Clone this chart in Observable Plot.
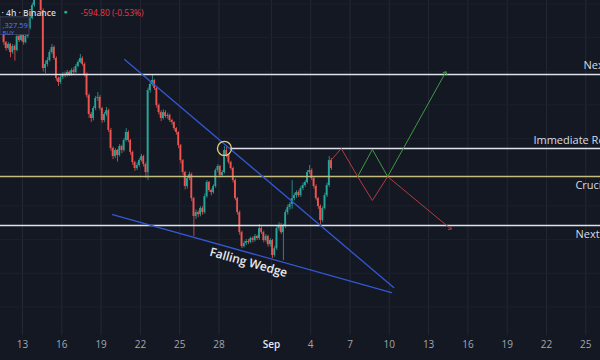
<!DOCTYPE html>
<html><head><meta charset="utf-8">
<script src="https://cdn.jsdelivr.net/npm/d3@7"></script>
<script src="https://cdn.jsdelivr.net/npm/@observablehq/plot@0.6"></script>
<style>
html,body{margin:0;padding:0;background:#141823;}
#chart{width:600px;height:360px;overflow:hidden;}
</style></head><body><div id="chart"></div>
<script>
// ---- data (prices in thousand USDT, BTC/USDT 4h) ----
const firstCandle = "2025-08-11T12:00Z";
const firstOpen = 120.12;
const close = [
119.70,119.35,119.59,119.11,119.47,119.23,120.06,119.82,120.12,119.70,
120.06,120.54,121.13,121.90,122.50,123.09,123.86,121.61,118.16,118.40,
118.63,119.11,119.41,118.75,117.57,117.33,117.62,117.80,117.74,117.92,
117.80,118.04,117.92,118.28,118.52,118.75,118.40,117.80,116.55,115.43,
115.19,115.78,116.38,116.44,115.78,115.07,115.43,115.66,114.48,113.41,
112.93,113.29,112.99,113.52,113.29,113.88,114.36,113.88,113.17,112.57,
112.22,112.40,112.69,112.93,112.45,111.98,116.85,117.21,117.45,116.97,
115.96,115.54,115.19,115.54,115.31,115.37,115.07,114.95,114.59,114.36,
113.58,112.69,111.98,111.15,111.62,111.86,110.43,109.37,109.60,109.48,
109.84,109.60,110.55,111.39,110.91,110.79,111.15,112.10,112.34,111.80,
111.98,113.29,112.99,112.57,112.22,111.50,110.43,109.60,108.41,107.58,
107.76,107.88,107.82,108.06,107.94,108.18,108.06,108.65,108.41,107.94,
108.18,107.70,107.94,107.05,107.46,108.65,108.83,108.41,108.77,109.60,
109.90,110.08,110.43,110.61,110.79,110.61,111.03,111.21,111.39,111.98,
112.10,111.62,111.15,110.43,109.96,109.13,109.84,110.61,111.21,112.69,
112.22];
const high = [
120.24,119.76,119.70,119.65,119.58,119.55,120.18,120.15,120.25,120.20,
120.15,120.65,121.30,122.05,122.70,123.30,124.46,124.00,121.70,118.60,
118.80,119.25,119.58,119.50,118.85,117.65,117.75,117.92,117.95,118.05,
118.00,118.15,118.20,118.40,118.65,118.99,118.85,118.50,117.90,116.65,
115.55,115.90,116.50,116.73,116.55,115.85,115.55,115.85,115.75,114.60,
113.50,113.40,113.35,113.65,113.60,114.00,114.59,114.45,113.95,113.25,
112.65,112.55,112.80,113.05,113.00,112.55,117.00,117.35,117.80,117.50,
117.05,116.05,115.65,115.70,115.65,115.50,115.45,115.15,115.00,114.65,
114.40,113.65,112.75,112.05,111.75,112.00,111.95,110.50,109.75,109.70,
109.95,109.95,110.70,111.50,111.45,111.00,111.25,112.20,112.45,112.40,
112.10,113.52,113.47,113.05,112.65,112.30,111.60,110.50,109.70,108.50,
107.90,108.00,108.00,108.15,108.15,108.30,108.25,108.89,108.75,108.50,
108.30,108.25,108.05,108.00,107.60,108.80,109.00,108.95,108.90,109.75,
110.05,110.20,111.50,110.75,110.90,110.90,111.15,111.35,111.50,112.10,
112.40,112.20,111.70,111.25,110.50,110.05,109.95,110.75,111.35,112.93,
112.81];
const low = [
119.53,119.20,119.25,118.80,119.00,118.60,119.15,119.70,119.75,119.55,
119.62,119.95,120.45,121.05,121.80,122.40,122.95,121.40,117.95,117.85,
118.25,118.55,119.00,118.65,117.40,117.09,117.20,117.50,117.60,117.65,
117.68,117.70,117.80,117.85,118.20,118.45,118.30,117.65,116.40,115.20,
114.95,115.05,115.65,116.20,115.65,114.90,114.95,115.30,114.35,113.25,
112.75,112.80,112.60,112.90,113.10,113.20,113.80,113.75,113.00,112.40,
112.05,112.10,112.30,112.60,112.30,111.62,111.50,116.70,117.10,116.85,
115.80,115.40,115.00,115.10,115.20,115.15,114.95,114.80,114.45,114.20,
113.40,112.50,111.80,110.95,111.00,111.50,110.25,108.18,109.20,109.30,
109.35,109.45,109.50,110.45,110.80,110.60,110.70,111.05,111.95,111.65,
111.70,111.90,112.85,112.45,112.10,111.35,110.30,109.45,108.25,107.46,
107.50,107.65,107.70,107.75,107.80,107.85,107.95,107.95,108.30,107.80,
107.85,107.55,107.55,106.87,106.95,107.35,108.50,108.30,106.75,108.65,
109.45,109.75,109.80,110.30,110.45,110.50,110.50,110.90,111.10,111.30,
111.85,111.50,111.00,110.30,109.80,108.89,109.00,109.75,110.50,111.10,
112.10];

const levelNames  = ["Next Resistance","Immediate Resistance","Crucial Support","Next Support"];
const levelPrices = [117.80, 113.41, 111.74, 108.83];

const wedgeUpperDates  = ["2025-08-20T19:00Z","2025-09-10T08:00Z"];
const wedgeUpperPrices = [118.69, 105.15];
const wedgeLowerDates  = ["2025-08-19T21:00Z","2025-09-10T04:00Z"];
const wedgeLowerPrices = [109.48, 104.85];

const bearDates  = ["2025-09-05T16:00Z","2025-09-06T08:00Z","2025-09-07T14:00Z","2025-09-08T17:00Z","2025-09-09T21:00Z","2025-09-14T16:00Z"];
const bearPrices = [112.81, 113.41, 111.74, 110.32, 111.74, 108.65];
const bullDates  = ["2025-09-07T14:00Z","2025-09-08T17:00Z","2025-09-09T21:00Z","2025-09-14T07:00Z"];
const bullPrices = [111.74, 113.35, 111.74, 117.92];

const retestDate = "2025-08-28T10:00Z";
const retestPrice = 113.41;

const tickDates  = ["2025-08-13","2025-08-16","2025-08-19","2025-08-22","2025-08-25","2025-08-28","2025-09-01","2025-09-04","2025-09-07","2025-09-10","2025-09-13","2025-09-16","2025-09-19","2025-09-22","2025-09-25"];
const tickLabels = ["13","16","19","22","25","28","Sep","4","7","10","13","16","19","22","25"];
const gridPrices = [104,106,108,110,112,114,116,118,120,122];

const headerText = "· 4h · Binance";
const changeText = "-594.80 (-0.53%)";
const buyPrice = ",327.59";
const buyText = "BUY";
const wedgeLabel = "Falling Wedge";

// ---- build tables ----
const H = 3600e3;
const t0 = new Date(firstCandle).getTime();
const candles = close.map((c, i) => ({
  t: t0 + i * 4 * H,
  open: i ? close[i - 1] : firstOpen,
  close: c, high: high[i], low: low[i]
}));
const up = candles.filter(d => d.close >= d.open);
const down = candles.filter(d => d.close < d.open);
const ticks = tickDates.map((s, i) => ({date: new Date(s + "T00:00Z"), label: tickLabels[i]}));
const levels = levelNames.map((n, i) => ({name: n, price: levelPrices[i]}));
const pts = (ds, ps) => ds.map((d, i) => ({date: new Date(d), price: ps[i]}));
const wedge = [...pts(wedgeUpperDates, wedgeUpperPrices).map(d => ({...d, z: "u"})),
               ...pts(wedgeLowerDates, wedgeLowerPrices).map(d => ({...d, z: "l"}))];
const bear = pts(bearDates, bearPrices);
const bull = pts(bullDates, bullPrices);

const xStart = new Date(Date.UTC(2025, 7, 11, 7, 41));
const xEnd = new Date(Date.UTC(2025, 8, 26, 2, 56));
const GREEN = "#26a69a", RED = "#ef5350";
const LINEW = "#dfe2ea";

const chart = Plot.plot({
  width: 600, height: 360,
  marginTop: 0, marginRight: 0, marginBottom: 25, marginLeft: 0,
  style: {background: "#141823", fontFamily: "'Open Sans', 'Noto Sans', sans-serif", overflow: "hidden"},
  x: {type: "utc", domain: [xStart, xEnd], axis: null},
  y: {domain: [102.3, 122.2], axis: null},
  marks: [
    Plot.ruleX(ticks, {x: "date", stroke: "#242834", strokeWidth: 1}),
    Plot.ruleY(gridPrices, {stroke: "#1d212c", strokeWidth: 1}),
    // candles
    Plot.ruleX(up, {x: d => d.t + 2 * H, y1: "low", y2: "high", stroke: GREEN, strokeWidth: 0.8, clip: true}),
    Plot.ruleX(down, {x: d => d.t + 2 * H, y1: "low", y2: "high", stroke: RED, strokeWidth: 0.8, clip: true}),
    Plot.rect(up, {x1: d => d.t + 0.4 * H, x2: d => d.t + 3.6 * H, y1: "open", y2: "close", fill: GREEN, clip: true}),
    Plot.rect(down, {x1: d => d.t + 0.4 * H, x2: d => d.t + 3.6 * H, y1: "open", y2: "close", fill: RED, clip: true}),
    // levels
    Plot.ruleY(levels.filter((d, i) => i === 0 || i === 3), {y: "price", stroke: LINEW, strokeWidth: 1.5}),
    Plot.ruleY(levels.filter((d, i) => i === 2), {y: "price", stroke: "#c4bd80", strokeWidth: 1.5}),
    Plot.ruleY(levels.filter((d, i) => i === 1), {y: "price", x1: () => new Date("2025-08-28T21:00Z"), x2: () => xEnd, stroke: LINEW, strokeWidth: 1.5}),
    // wedge
    Plot.line(wedge, {x: "date", y: "price", z: "z", stroke: "#3358d4", strokeWidth: 1.3}),
    // retest circle
    Plot.dot([retestPrice], {x: () => new Date(retestDate), y: d => d, r: 7, stroke: "#e2d27c", strokeWidth: 1.3, fill: "none"}),
    // projections
    Plot.line(bull, {x: "date", y: "price", stroke: "#3f9a43", strokeWidth: 1, markerEnd: "arrow"}),
    Plot.line(bear, {x: "date", y: "price", stroke: "#b63a3c", strokeWidth: 1, markerEnd: "arrow"}),
    // level labels
    Plot.text(levels.filter((d, i) => i === 0), {x: () => new Date("2025-09-24T19:40Z"), y: "price", text: "name", textAnchor: "start", dy: -9, fill: "#d9dce3", fontSize: 11}),
    Plot.text(levels.filter((d, i) => i === 1), {x: () => new Date("2025-09-21T00:00Z"), y: "price", text: "name", textAnchor: "start", dy: -8, fill: "#d9dce3", fontSize: 11}),
    Plot.text(levels.filter((d, i) => i >= 2), {x: () => new Date("2025-09-24T05:00Z"), y: "price", text: "name", textAnchor: "start", dy: 9, fill: "#d9dce3", fontSize: 11}),
    // wedge label
    Plot.text([wedgeLabel], {x: () => new Date("2025-08-30T06:00Z"), y: () => 106.63, text: d => d, rotate: 15.6, fill: "#e8eaef", fontSize: 12, fontWeight: 600}),
    // x tick labels
    Plot.text(ticks.filter(d => d.label !== "Sep"), {x: "date", text: "label", frameAnchor: "bottom", dy: 12, fill: "#a3a6af", fontSize: 10}),
    Plot.text(ticks.filter(d => d.label === "Sep"), {x: "date", text: "label", frameAnchor: "bottom", dy: 12, fill: "#e6e8ee", fontSize: 10, fontWeight: 600}),
    // header
    Plot.text([headerText], {frameAnchor: "top-left", dx: 1, dy: 9, text: d => d, textAnchor: "start", fill: "#d1d4dc", fontSize: 8.5, fontWeight: 600}),
    Plot.text(["●"], {frameAnchor: "top-left", dx: 63, dy: 9, text: d => d, textAnchor: "start", fill: "#22ab94", fontSize: 7}),
    Plot.text([changeText], {frameAnchor: "top-left", dx: 80, dy: 9, text: d => d, textAnchor: "start", fill: "#f23645", fontSize: 8.5}),
    Plot.rect([0], {x1: () => xStart, x2: () => new Date("2025-08-13T12:50Z"), y1: () => 120.15, y2: () => 121.20, fill: "#1b1f2b", stroke: "#3a4052", strokeWidth: 1}),
    Plot.text([buyPrice], {frameAnchor: "top-left", dx: 2, dy: 22, text: d => d, textAnchor: "start", fill: "#4d7dff", fontSize: 7.5}),
    Plot.text([buyText], {frameAnchor: "top-left", dx: 2, dy: 30, text: d => d, textAnchor: "start", fill: "#4d7dff", fontSize: 6})
  ]
});
document.getElementById("chart").appendChild(chart);
</script>
</body></html>
